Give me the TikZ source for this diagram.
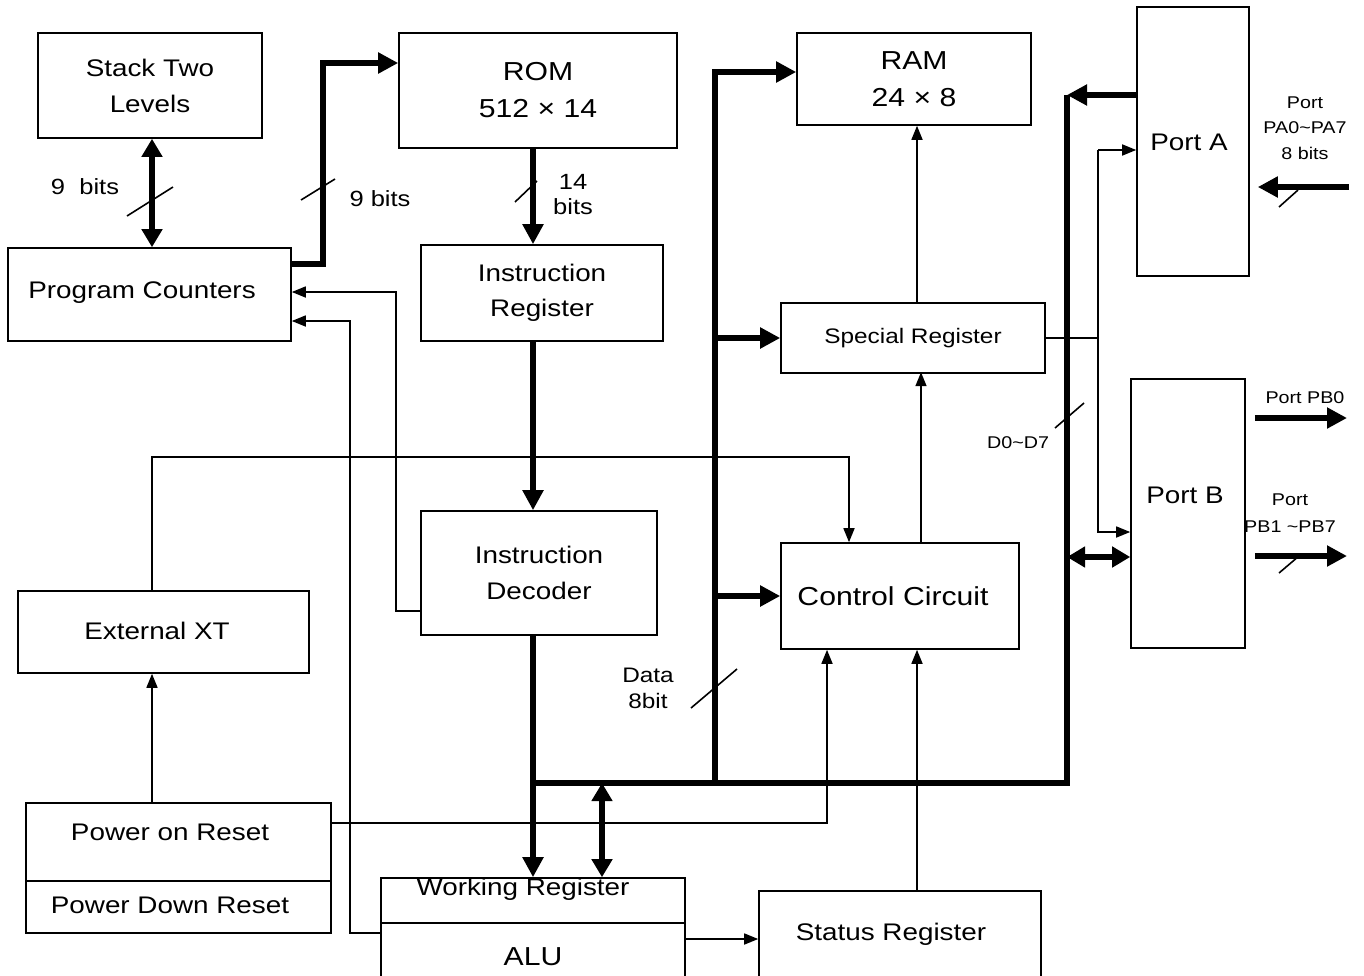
\documentclass[tikz,border=0pt]{standalone}
\usepackage{fontspec}
\setmainfont{Liberation Sans}[FakeStretch=1.16]
\usetikzlibrary{arrows.meta,positioning,calc}

\begin{document}
\begin{tikzpicture}[x=0.5pt, y=-0.5pt,
  blk/.style={draw, line width=0.8pt, inner sep=0pt, align=center, font=\fontsize{12}{18}\selectfont},
  bus/.style={line width=2.75pt},
  wire/.style={line width=0.8pt},
  bh/.style={-{Triangle[length=10pt,width=10pt]}},
  bb/.style={{Triangle[length=9pt,width=10pt]}-{Triangle[length=9pt,width=10pt]}},
  wh/.style={-{Triangle[length=7pt,width=5.5pt]}},
  lbl/.style={font=\fontsize{11}{12.5}\selectfont, align=center},
  sml/.style={font=\fontsize{8.5}{12.75}\selectfont, align=center}
]
  \useasboundingbox (0,0) rectangle (1364,975);
  \clip (0,0) rectangle (1364,975);

  % blocks
  \node[blk, minimum width=112pt, minimum height=52.5pt] (stack) at (150,85.5) {Stack Two\\Levels};
  \node[blk, minimum width=139pt, minimum height=57.5pt, font=\fontsize{13}{18.5}\selectfont] (rom) at (538,90.5) {ROM\\512 × 14};
  \node[blk, minimum width=117pt, minimum height=46pt, font=\fontsize{13}{18.5}\selectfont] (ram) at (914,79) {RAM\\24 × 8};
  \node[blk, minimum width=56pt, minimum height=134.5pt] (porta) at (1193,141.5) {};
  \node[blk, minimum width=141.5pt, minimum height=46.5pt] (pc) at (149.5,294.5) {};
  \node[blk, minimum width=121pt, minimum height=48pt, font=\fontsize{12}{17.5}\selectfont] (ir) at (542,293) {Instruction\\Register};
  \node[blk, minimum width=132pt, minimum height=35pt, font=\fontsize{10.5}{12}\selectfont] (sr) at (913,338) {Special Register};
  \node[blk, minimum width=57pt, minimum height=134.5pt] (portb) at (1188,513.5) {};
  \node[blk, minimum width=118pt, minimum height=62pt] (id) at (539,573) {Instruction\\Decoder};
  \node[blk, minimum width=119pt, minimum height=53pt] (cc) at (900,596) {};
  \node[blk, minimum width=145.5pt, minimum height=41pt] (xt) at (163.5,632) {};
  \node[blk, minimum width=152.5pt, minimum height=39pt] (por) at (178.5,842) {};
  \node[blk, minimum width=152.5pt, minimum height=26pt] (pdr) at (178.5,907) {};
  \node[blk, minimum width=152pt, minimum height=22.5pt] (wr) at (533,900.5) {};
  \node[blk, minimum width=152pt, minimum height=33.5pt, font=\fontsize{13}{15}\selectfont] (alu) at (533,956.5) {ALU};
  \node[blk, minimum width=141pt, minimum height=49.5pt] (stat) at (900,940.5) {};

  % texts placed off centre
  \tikzset{txt/.style={font=\fontsize{12}{14}\selectfont}}
  \node[txt] (portatxt) at (1189,142) {Port A};
  \node[txt] (pctxt) at (142,293) {Program Counters};
  \node[txt] (portbtxt) at (1185,495) {Port B};
  \node[txt, font=\fontsize{13}{15}\selectfont] (cctxt) at (893,596) {Control Circuit};
  \node[txt] (xttxt) at (157,631) {External XT};
  \node[txt] (portxt) at (170,832) {Power on Reset};
  \node[txt] (pdrtxt) at (170,905) {Power Down Reset};
  \node[txt] (wrtxt) at (523,889) {Working Register};
  \node[txt] (stattxt) at (891,934) {Status Register};

  % bus joints
  \coordinate (j1) at (715,783);
  \coordinate (j2) at (602,783);
  \coordinate (j3) at (1067,783);
  \coordinate (pa) at (1067,95);
  \coordinate (pbio) at ($(portb.west)+(0,43.5)$);
  \coordinate (pb0) at (1347,418);
  \coordinate (pb17) at (1347,556);
  \coordinate (pain) at (1349,187);

  % thick paths
  \draw[bus,bb] ($(stack.south)+(2,0)$) -- ($(pc.north)+(2.5,0)$);
  \draw[bus,bh,line join=miter] ($(pc.east)+(0,-30.5)$) -- ++(31,0) |- ($(rom.west)+(0,-27.5)$);
  \draw[bus,bh] ($(rom.south)+(-5,0)$) -- ($(ir.north)+(-9,0)$);
  \draw[bus,bh] ($(ir.south)+(-9,0)$) -- ($(id.north)+(-6,0)$);
  \draw[bus,bh] ($(id.south)+(-6,0)$) -- (wr.north);
  \draw[bus,line join=miter] (wr.north |- j1) -- (j3) -- (pa);
  \draw[bus,bh,line join=miter] (j1) |- ($(ram.west)+(0,-7)$);
  \draw[bus,bh] (j1 |- sr.west) -- (sr.west);
  \draw[bus,bh] (j1 |- cc.west) -- (cc.west);
  \draw[bus,bb] (j2) -- (j2 |- wr.north);
  \draw[bus,bh] ($(porta.west)+(0,-46.5)$) -- (pa);
  \draw[bus,bb] (j3 |- pbio) -- (pbio);
  \draw[bus,bh,shorten <=4.5pt] (portb.east |- pb0) -- (pb0);
  \draw[bus,bh,shorten <=4.5pt] (portb.east |- pb17) -- (pb17);
  \draw[bus,bh,shorten >=4pt] (pain) -- (porta.east |- pain);

  % thin control lines
  \coordinate (sp) at (1098,341);
  \coordinate (paw) at ($(porta.west)+(0,8.5)$);
  \coordinate (pbw) at ($(portb.west)+(0,18.5)$);
  \draw[wire] (sr.east) -- (sp |- sr.east);
  \draw[wire,wh] (paw -| sp) -- (paw);
  \draw[wire,wh] (paw -| sp) -- (pbw -| sp) -- (pbw);
  \draw[wire,wh] ($(id.west)+(0,38)$) -- ++(-24,0) |- ($(pc.east)+(0,-2.5)$);
  \draw[wire,wh] ($(alu.west)+(0,-23.5)$) -- ++(-30,0) |- ($(pc.east)+(0,26.5)$);
  \draw[wire,wh] ($(xt.north)+(-11.5,0)$) -- ++(0,-133) -| ($(cc.north)+(-51,0)$);
  \draw[wire,wh] ($(por.north)+(-26.5,0)$) -- ($(xt.south)+(-11.5,0)$);
  \draw[wire,wh] ($(por.east)+(0,-19)$) -| ($(cc.south)+(-73,0)$);
  \draw[wire,wh] ($(stat.north)+(17,0)$) -- ($(cc.south)+(17,0)$);
  \draw[wire,wh] ($(cc.north)+(21,0)$) -- ++(0,-170);
  \draw[wire,wh] ($(sr.north)+(4,0)$) -- ($(ram.south)+(3,0)$);
  \draw[wire,wh] ($(alu.east)+(0,-17.5)$) -- ($(stat.west)+(0,-1.5)$);

  % width marks
  \draw[wire] (127,216) -- (173,187);
  \draw[wire] (301,200) -- (335,179);
  \draw[wire] (515,202) -- (537,181);
  \draw[wire] (691,708) -- (737,669);
  \draw[wire] (1055,428) -- (1084,403);
  \draw[wire] (1279,207) -- (1298,190);
  \draw[wire] (1279,573) -- (1299,556);

  % labels
  \node[lbl] (l9a) at (85,187) {9\ \ bits};
  \node[lbl] (l9b) at (380,199) {9 bits};
  \node[lbl] (l14) at (573,195) {14\\bits};
  \node[lbl, font=\fontsize{10.5}{13}\selectfont] (ldata) at (648,688) {Data\\8bit};
  \node[sml] (ld) at (1018,443) {D0\textasciitilde D7};
  \node[sml] (lpa) at (1305,128) {Port\\PA0\textasciitilde PA7\\8 bits};
  \node[sml] (lpb0) at (1305,398) {Port PB0};
  \node[sml, font=\fontsize{8.5}{13.5}\selectfont] (lpb) at (1290,513) {Port\\PB1 \textasciitilde PB7};
\end{tikzpicture}
\end{document}
